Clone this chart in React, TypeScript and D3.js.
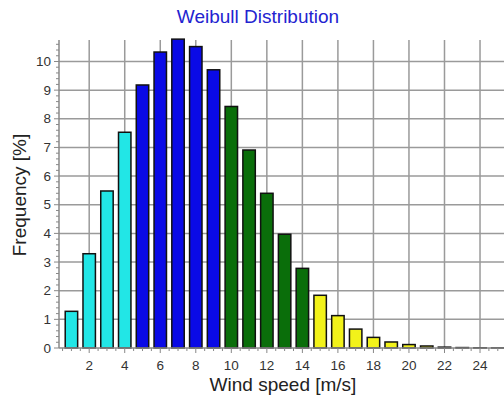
import React, { useEffect, useRef } from "react";
import * as d3 from "d3";

const speeds = [1, 2, 3, 4, 5, 6, 7, 8, 9, 10, 11, 12, 13, 14, 15, 16, 17, 18, 19, 20, 21, 22, 23, 24, 25];
const frequencies = [1.28, 3.29, 5.48, 7.53, 9.18, 10.33, 10.78, 10.52, 9.71, 8.43, 6.91, 5.4, 3.97, 2.78, 1.84, 1.13, 0.66, 0.37, 0.21, 0.12, 0.07, 0.03, 0.015, 0.008, 0.004];
const classes = ["c", "c", "c", "c", "b", "b", "b", "b", "b", "g", "g", "g", "g", "g", "y", "y", "y", "y", "y", "y", "y", "y", "y", "y", "y"];
const classColors: Record<string, string> = { c: "#22e6e6", b: "#0a0ae6", g: "#0a6e0a", y: "#f2f21a" };
const xTicks = [2, 4, 6, 8, 10, 12, 14, 16, 18, 20, 22, 24];
const xGrid = [2, 4, 6, 8, 10, 12, 14, 16, 18, 20, 22, 24, 26];
const yTicks = [0, 1, 2, 3, 4, 5, 6, 7, 8, 9, 10];

export default function App() {
  const ref = useRef<SVGSVGElement>(null);
  useEffect(() => {
    const svg = d3.select(ref.current);
    svg.selectAll("*").remove();
    const W = 504, H = 402;
    const left = 59, top = 40, bottom = 348, right = 512;
    const x = d3.scaleLinear().domain([0.3, 25.8]).range([left, right]);
    const y = d3.scaleLinear().domain([0, 10.75]).range([bottom, top]);
    svg.append("rect").attr("width", W).attr("height", H).attr("fill", "#fff");
    const font = "'Liberation Sans', Arial, Helvetica, sans-serif";

    // grid
    const g = svg.append("g");
    g.selectAll("line.v").data(xGrid).enter().append("line")
      .attr("x1", d => x(d)).attr("x2", d => x(d)).attr("y1", top).attr("y2", bottom)
      .attr("stroke", "#9a9a9a").attr("stroke-width", 1.5);
    g.selectAll("line.h").data(yTicks.filter(d => d > 0)).enter().append("line")
      .attr("x1", left).attr("x2", right).attr("y1", d => y(d)).attr("y2", d => y(d))
      .attr("stroke", "#9a9a9a").attr("stroke-width", 1.5);

    // bars
    const bw = 0.7;
    svg.append("g").selectAll("rect").data(speeds).enter().append("rect")
      .attr("x", (d) => x(d - bw / 2))
      .attr("width", x(bw) - x(0))
      .attr("y", (d, i) => y(frequencies[i]))
      .attr("height", (d, i) => Math.max(0, y(0) - y(frequencies[i])))
      .attr("fill", (d, i) => classColors[classes[i]])
      .attr("stroke", "#111").attr("stroke-width", 1.5);

    // axes
    svg.append("line").attr("x1", left).attr("x2", right).attr("y1", bottom).attr("y2", bottom)
      .attr("stroke", "#888").attr("stroke-width", 1.5);
    svg.append("line").attr("x1", left).attr("x2", left).attr("y1", top).attr("y2", bottom)
      .attr("stroke", "#888").attr("stroke-width", 1.5);

    const xMinor = d3.range(0.5, 26, 0.5);
    svg.append("g").selectAll("line").data(xMinor).enter().append("line")
      .attr("x1", d => x(d)).attr("x2", d => x(d))
      .attr("y1", bottom).attr("y2", d => bottom + (d % 2 === 0 ? 5 : 3))
      .attr("stroke", "#888").attr("stroke-width", 1);
    const yMinor = d3.range(0, 10.8, 0.2);
    svg.append("g").selectAll("line").data(yMinor).enter().append("line")
      .attr("x1", d => left - (Math.abs(d - Math.round(d)) < 0.01 ? 5 : 3)).attr("x2", left)
      .attr("y1", d => y(d)).attr("y2", d => y(d))
      .attr("stroke", "#888").attr("stroke-width", 1);

    svg.append("g").selectAll("text").data(xTicks).enter().append("text")
      .attr("x", d => x(d)).attr("y", bottom + 22)
      .attr("text-anchor", "middle").attr("font-family", font).attr("font-size", 13.5)
      .attr("fill", "#333").text(d => d);
    svg.append("g").selectAll("text").data(yTicks).enter().append("text")
      .attr("x", left - 8).attr("y", d => y(d) + 4.5)
      .attr("text-anchor", "end").attr("font-family", font).attr("font-size", 13.5)
      .attr("fill", "#333").text(d => d);

    svg.append("text").attr("x", 258).attr("y", 23).attr("text-anchor", "middle")
      .attr("font-family", font).attr("font-size", 19).attr("fill", "#2323d0")
      .text("Weibull Distribution");
    svg.append("text").attr("x", 283).attr("y", 391).attr("text-anchor", "middle")
      .attr("font-family", font).attr("font-size", 19).attr("fill", "#222")
      .text("Wind speed [m/s]");
    svg.append("text").attr("transform", "translate(26,195) rotate(-90)").attr("text-anchor", "middle")
      .attr("font-family", font).attr("font-size", 19).attr("fill", "#222")
      .text("Frequency [%]");
  }, []);
  return (
    <svg ref={ref} width={504} height={402}
      style={{ position: "absolute", left: 0, top: 0, display: "block" }} />
  );
}
